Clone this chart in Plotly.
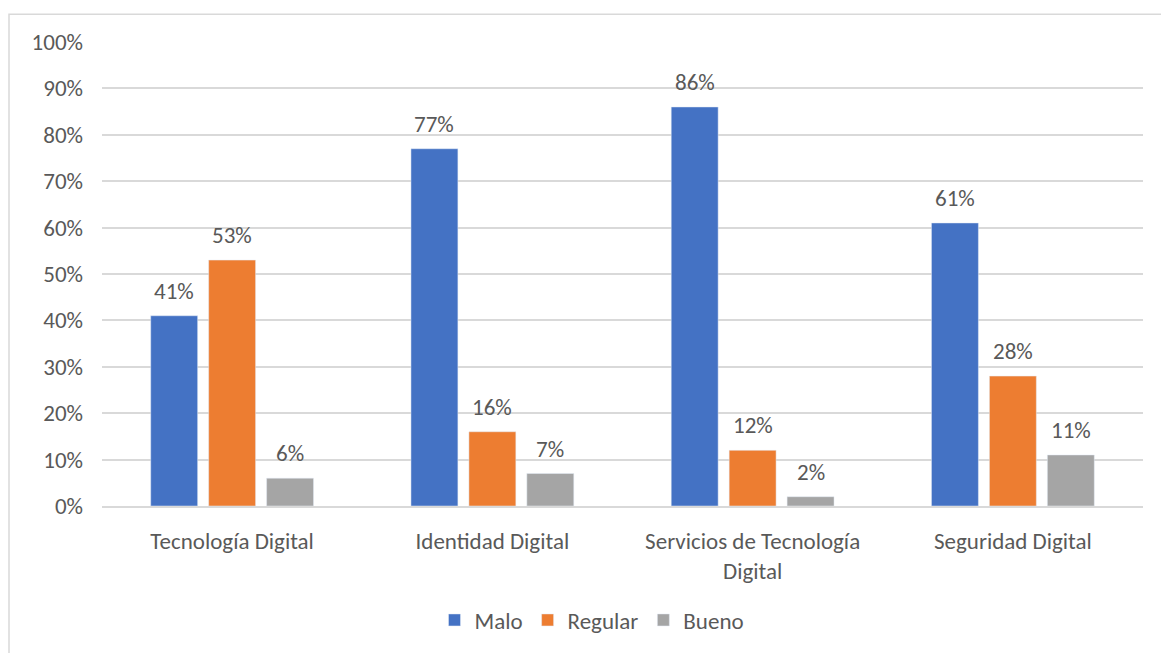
import plotly.graph_objects as go

categories = ["Tecnología Digital", "Identidad Digital", "Servicios de Tecnología<br>Digital", "Seguridad Digital"]
series_names = ["Malo", "Regular", "Bueno"]
malo = [41, 77, 86, 61]
regular = [53, 16, 12, 28]
bueno = [6, 7, 2, 11]
colors = ["#4472C4", "#ED7D31", "#A5A5A5"]

FONT = "Carlito, Calibri, Lato, sans-serif"
TXT = "#595959"
FS = 23

W, H = 1161, 653
ml, mr, mt, mb = 102, 18, 42, 143
pw = W - ml - mr
ph = H - mt - mb
slot_px = pw / len(categories) * (1 - 0.332) / 3

fig = go.Figure()
annotations = []
for i, (name, vals, col) in enumerate(zip(series_names, [malo, regular, bueno], colors)):
    fig.add_trace(go.Bar(
        x=categories, y=vals, name=name, marker_color=col,
        cliponaxis=False,
    ))
    for c, v in zip(categories, vals):
        annotations.append(dict(
            x=c, y=v, xref="x", yref="y", text=f"{v}%", showarrow=False,
            xshift=(i - 1) * slot_px, yshift=25, yanchor="middle",
            font=dict(family=FONT, size=FS, color=TXT)))

fig.update_layout(
    width=W, height=H,
    margin=dict(l=ml, r=mr, t=mt, b=mb),
    paper_bgcolor="white", plot_bgcolor="white",
    barmode="group", bargap=0.332, bargroupgap=0.19,
    font=dict(family=FONT, size=FS, color=TXT),
    showlegend=True,
    annotations=annotations,
    legend=dict(orientation="h", x=(592 - ml) / pw, xanchor="center",
                y=(mt + ph - 625) / ph, yanchor="middle",
                font=dict(family=FONT, size=FS, color=TXT),
                itemwidth=30, tracegroupgap=0),
    xaxis=dict(showgrid=False, showline=True, linecolor="#D9D9D9", linewidth=1.5,
               tickfont=dict(family=FONT, size=FS, color=TXT),
               ticklabelstandoff=14),
    yaxis=dict(range=[0, 100], dtick=10, ticksuffix="%", showgrid=True,
               gridcolor="#D9D9D9", gridwidth=1.5, zeroline=False,
               tickfont=dict(family=FONT, size=FS, color=TXT),
               ticklabelstandoff=18),
    shapes=[dict(type="rect", xref="paper", yref="paper",
                 x0=(9 - ml) / pw, x1=1.2, y0=-0.6, y1=1 + (mt - 14) / ph,
                 line=dict(color="#D9D9D9", width=1.5), fillcolor="rgba(0,0,0,0)",
                 layer="below")],
)

fig.write_html("out.html", config={"displayModeBar": False},
               post_script="document.body.style.margin='0';document.body.style.overflow='hidden';")
